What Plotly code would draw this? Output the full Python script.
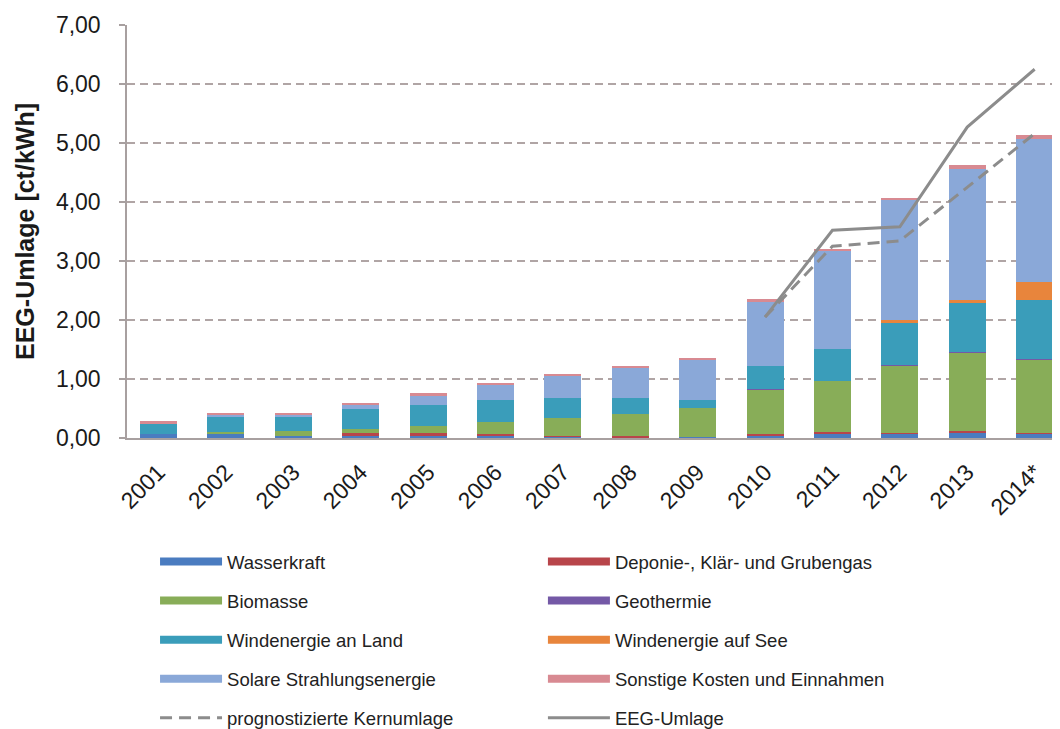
import plotly.graph_objects as go

years = ["2001", "2002", "2003", "2004", "2005", "2006", "2007", "2008",
         "2009", "2010", "2011", "2012", "2013", "2014*"]

wasserkraft = [0.07, 0.07, 0.035, 0.03, 0.03, 0.03, 0.02, 0.01, 0.01, 0.03, 0.07, 0.07, 0.085, 0.07]
deponie     = [0.0, 0.0, 0.0, 0.05, 0.05, 0.045, 0.01, 0.03, 0.0, 0.045, 0.03, 0.01, 0.03, 0.01]
biomasse    = [0.0, 0.03, 0.08, 0.07, 0.13, 0.20, 0.31, 0.37, 0.505, 0.745, 0.87, 1.15, 1.34, 1.25]
geothermie  = [0, 0, 0, 0, 0, 0, 0, 0, 0, 0.003, 0.004, 0.005, 0.005, 0.005]
wind_land   = [0.18, 0.25, 0.24, 0.35, 0.35, 0.375, 0.34, 0.27, 0.13, 0.40, 0.53, 0.72, 0.83, 1.0]
wind_see    = [0, 0, 0, 0, 0, 0, 0, 0, 0, 0, 0, 0.05, 0.05, 0.31]
solar       = [0.0, 0.04, 0.05, 0.06, 0.165, 0.24, 0.38, 0.50, 0.67, 1.09, 1.66, 2.03, 2.22, 2.43]
sonstige    = [0.03, 0.02, 0.01, 0.02, 0.03, 0.035, 0.03, 0.04, 0.035, 0.04, 0.04, 0.04, 0.075, 0.06]

line_years = ["2010", "2011", "2012", "2013", "2014*"]
kernumlage = [2.05, 3.25, 3.34, 4.25, 5.16]
eeg_umlage = [2.05, 3.52, 3.58, 5.27, 6.25]

y_ticks = [0, 1, 2, 3, 4, 5, 6, 7]

series = [
    ("Wasserkraft", wasserkraft, "#4a7cc0", "legend"),
    ("Deponie-, Klär- und Grubengas", deponie, "#b8454a", "legend2"),
    ("Biomasse", biomasse, "#88ad58", "legend"),
    ("Geothermie", geothermie, "#7459a6", "legend2"),
    ("Windenergie an Land", wind_land, "#3a9dba", "legend"),
    ("Windenergie auf See", wind_see, "#e8853c", "legend2"),
    ("Solare Strahlungsenergie", solar, "#8aa8d8", "legend"),
    ("Sonstige Kosten und Einnahmen", sonstige, "#d88a92", "legend2"),
]

FONT = "Liberation Sans, Arial, sans-serif"
fig = go.Figure()

for name, vals, color, leg in series:
    fig.add_trace(go.Bar(x=years, y=vals, name=name, marker=dict(color=color, line=dict(width=0)),
                         showlegend=False, legendgroup=name))
    fig.add_trace(go.Scatter(x=[None], y=[None], mode="lines", name=name, legendgroup=name,
                             line=dict(color=color, width=8), legend=leg))

fig.add_trace(go.Scatter(x=line_years, y=kernumlage, mode="lines", name="prognostizierte Kernumlage",
                         line=dict(color="#8c8c8c", width=3, dash="12px,7px"), legend="legend",
                         legendgroup="kern"))
fig.add_trace(go.Scatter(x=line_years, y=eeg_umlage, mode="lines", name="EEG-Umlage",
                         line=dict(color="#8c8c8c", width=3), legend="legend2", legendgroup="eeg"))

leg_common = dict(orientation="v", xanchor="left", yanchor="top",
                  font=dict(family=FONT, size=18.5, color="#222"),
                  tracegroupgap=12, itemwidth=62, bgcolor="rgba(0,0,0,0)", traceorder="grouped")

fig.update_layout(
    template="none",
    width=1060, height=729,
    margin=dict(l=119, r=0, t=17, b=296),
    paper_bgcolor="white", plot_bgcolor="white",
    separators=",.",
    barmode="stack", bargap=0.45,
    font=dict(family=FONT, size=19, color="#1a1a1a"),
    showlegend=True,
    legend=dict(x=0.0298, y=-0.2548, **leg_common),
    legend2=dict(x=0.442, y=-0.2548, **leg_common),
    xaxis=dict(type="category", range=[-0.467, 13.495], tickangle=-45, automargin=False,
               showline=True, linecolor="#a8a0a0", linewidth=1.5, ticks="", ticklabelstandoff=10,
               tickfont=dict(size=23, family=FONT, color="#1a1a1a"), showgrid=False, zeroline=False),
    yaxis=dict(range=[0, 7], tickvals=y_ticks, tickformat=".2f", automargin=False,
               showline=True, linecolor="#a8a0a0", linewidth=1.5, ticks="outside", ticklen=6,
               tickcolor="#a8a0a0", tickwidth=1.5, ticklabelstandoff=14,
               tickfont=dict(size=23, family=FONT, color="#1a1a1a"),
               showgrid=True, gridcolor="#b0a5a5", gridwidth=1.5, griddash="8px,5px",
               zeroline=False,
               title=dict(text="<b>EEG-Umlage [ct/kWh]</b>", font=dict(size=25, family=FONT, color="#1a1a1a"),
                          standoff=14)),
)

fig.write_html("out.html")
